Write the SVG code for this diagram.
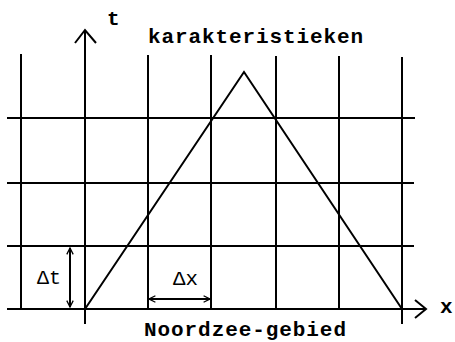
<svg xmlns="http://www.w3.org/2000/svg" width="455" height="342" viewBox="0 0 455 342">
<defs>
<style>
.ln{stroke:#000;stroke-width:2;fill:none;stroke-linecap:butt}
.ar{stroke:#000;stroke-width:2;fill:none;stroke-linejoin:miter}
.tx{font-family:"Liberation Mono","Courier New",monospace;font-weight:bold;font-size:21px;fill:#000}
.dl{font-family:"Liberation Mono","Courier New",monospace;font-size:21px;fill:#000}
</style>
<marker id="ah" viewBox="0 0 10 10" refX="9" refY="5" markerWidth="8" markerHeight="8" markerUnits="userSpaceOnUse" orient="auto-start-reverse">
<path d="M1,1 L9,5 L1,9" fill="none" stroke="#000" stroke-width="1.6"/>
</marker>
</defs>
<rect width="455" height="342" fill="#fff"/>
<g id="grid">
<line class="ln" x1="21" y1="54" x2="21" y2="309"/>
<line class="ln" x1="148" y1="55" x2="148" y2="309"/>
<line class="ln" x1="211" y1="55" x2="211" y2="309"/>
<line class="ln" x1="276" y1="56" x2="276" y2="309"/>
<line class="ln" x1="339" y1="56" x2="339" y2="309"/>
<line class="ln" x1="402" y1="57" x2="402" y2="324"/>
<line class="ln" x1="7" y1="118" x2="415" y2="118"/>
<line class="ln" x1="7" y1="183" x2="414" y2="183"/>
<line class="ln" x1="7" y1="246" x2="414" y2="246"/>
</g>
<g id="t-axis">
<line class="ln" x1="85" y1="30" x2="85" y2="324"/>
<path class="ar" d="M75,43 L85,30 L96,43"/>
<text class="tx" x="107" y="25">t</text>
</g>
<g id="x-axis">
<line class="ln" x1="7" y1="309" x2="426" y2="309"/>
<path class="ar" d="M415,300 L426,309 L415,318"/>
<text class="tx" x="440" y="313">x</text>
</g>
<g id="characteristics">
<polyline class="ln" points="85,309 244,72 402,309"/>
<text class="tx" x="148" y="43" textLength="215" lengthAdjust="spacing">karakteristieken</text>
</g>
<g id="connectors">
<line x1="70" y1="248" x2="70" y2="307" stroke="#000" stroke-width="2" marker-start="url(#ah)" marker-end="url(#ah)"/>
<line x1="149" y1="299" x2="210" y2="299" stroke="#000" stroke-width="2" marker-start="url(#ah)" marker-end="url(#ah)"/>
</g>
<g id="delta-t">
<text class="dl" x="37" y="284" textLength="24" lengthAdjust="spacingAndGlyphs">Δt</text>
</g>
<g id="delta-x">
<text class="dl" x="173" y="285" textLength="25" lengthAdjust="spacingAndGlyphs">Δx</text>
</g>
<g id="region">
<text class="tx" x="144" y="336" textLength="202" lengthAdjust="spacing">Noordzee-gebied</text>
</g>
</svg>
